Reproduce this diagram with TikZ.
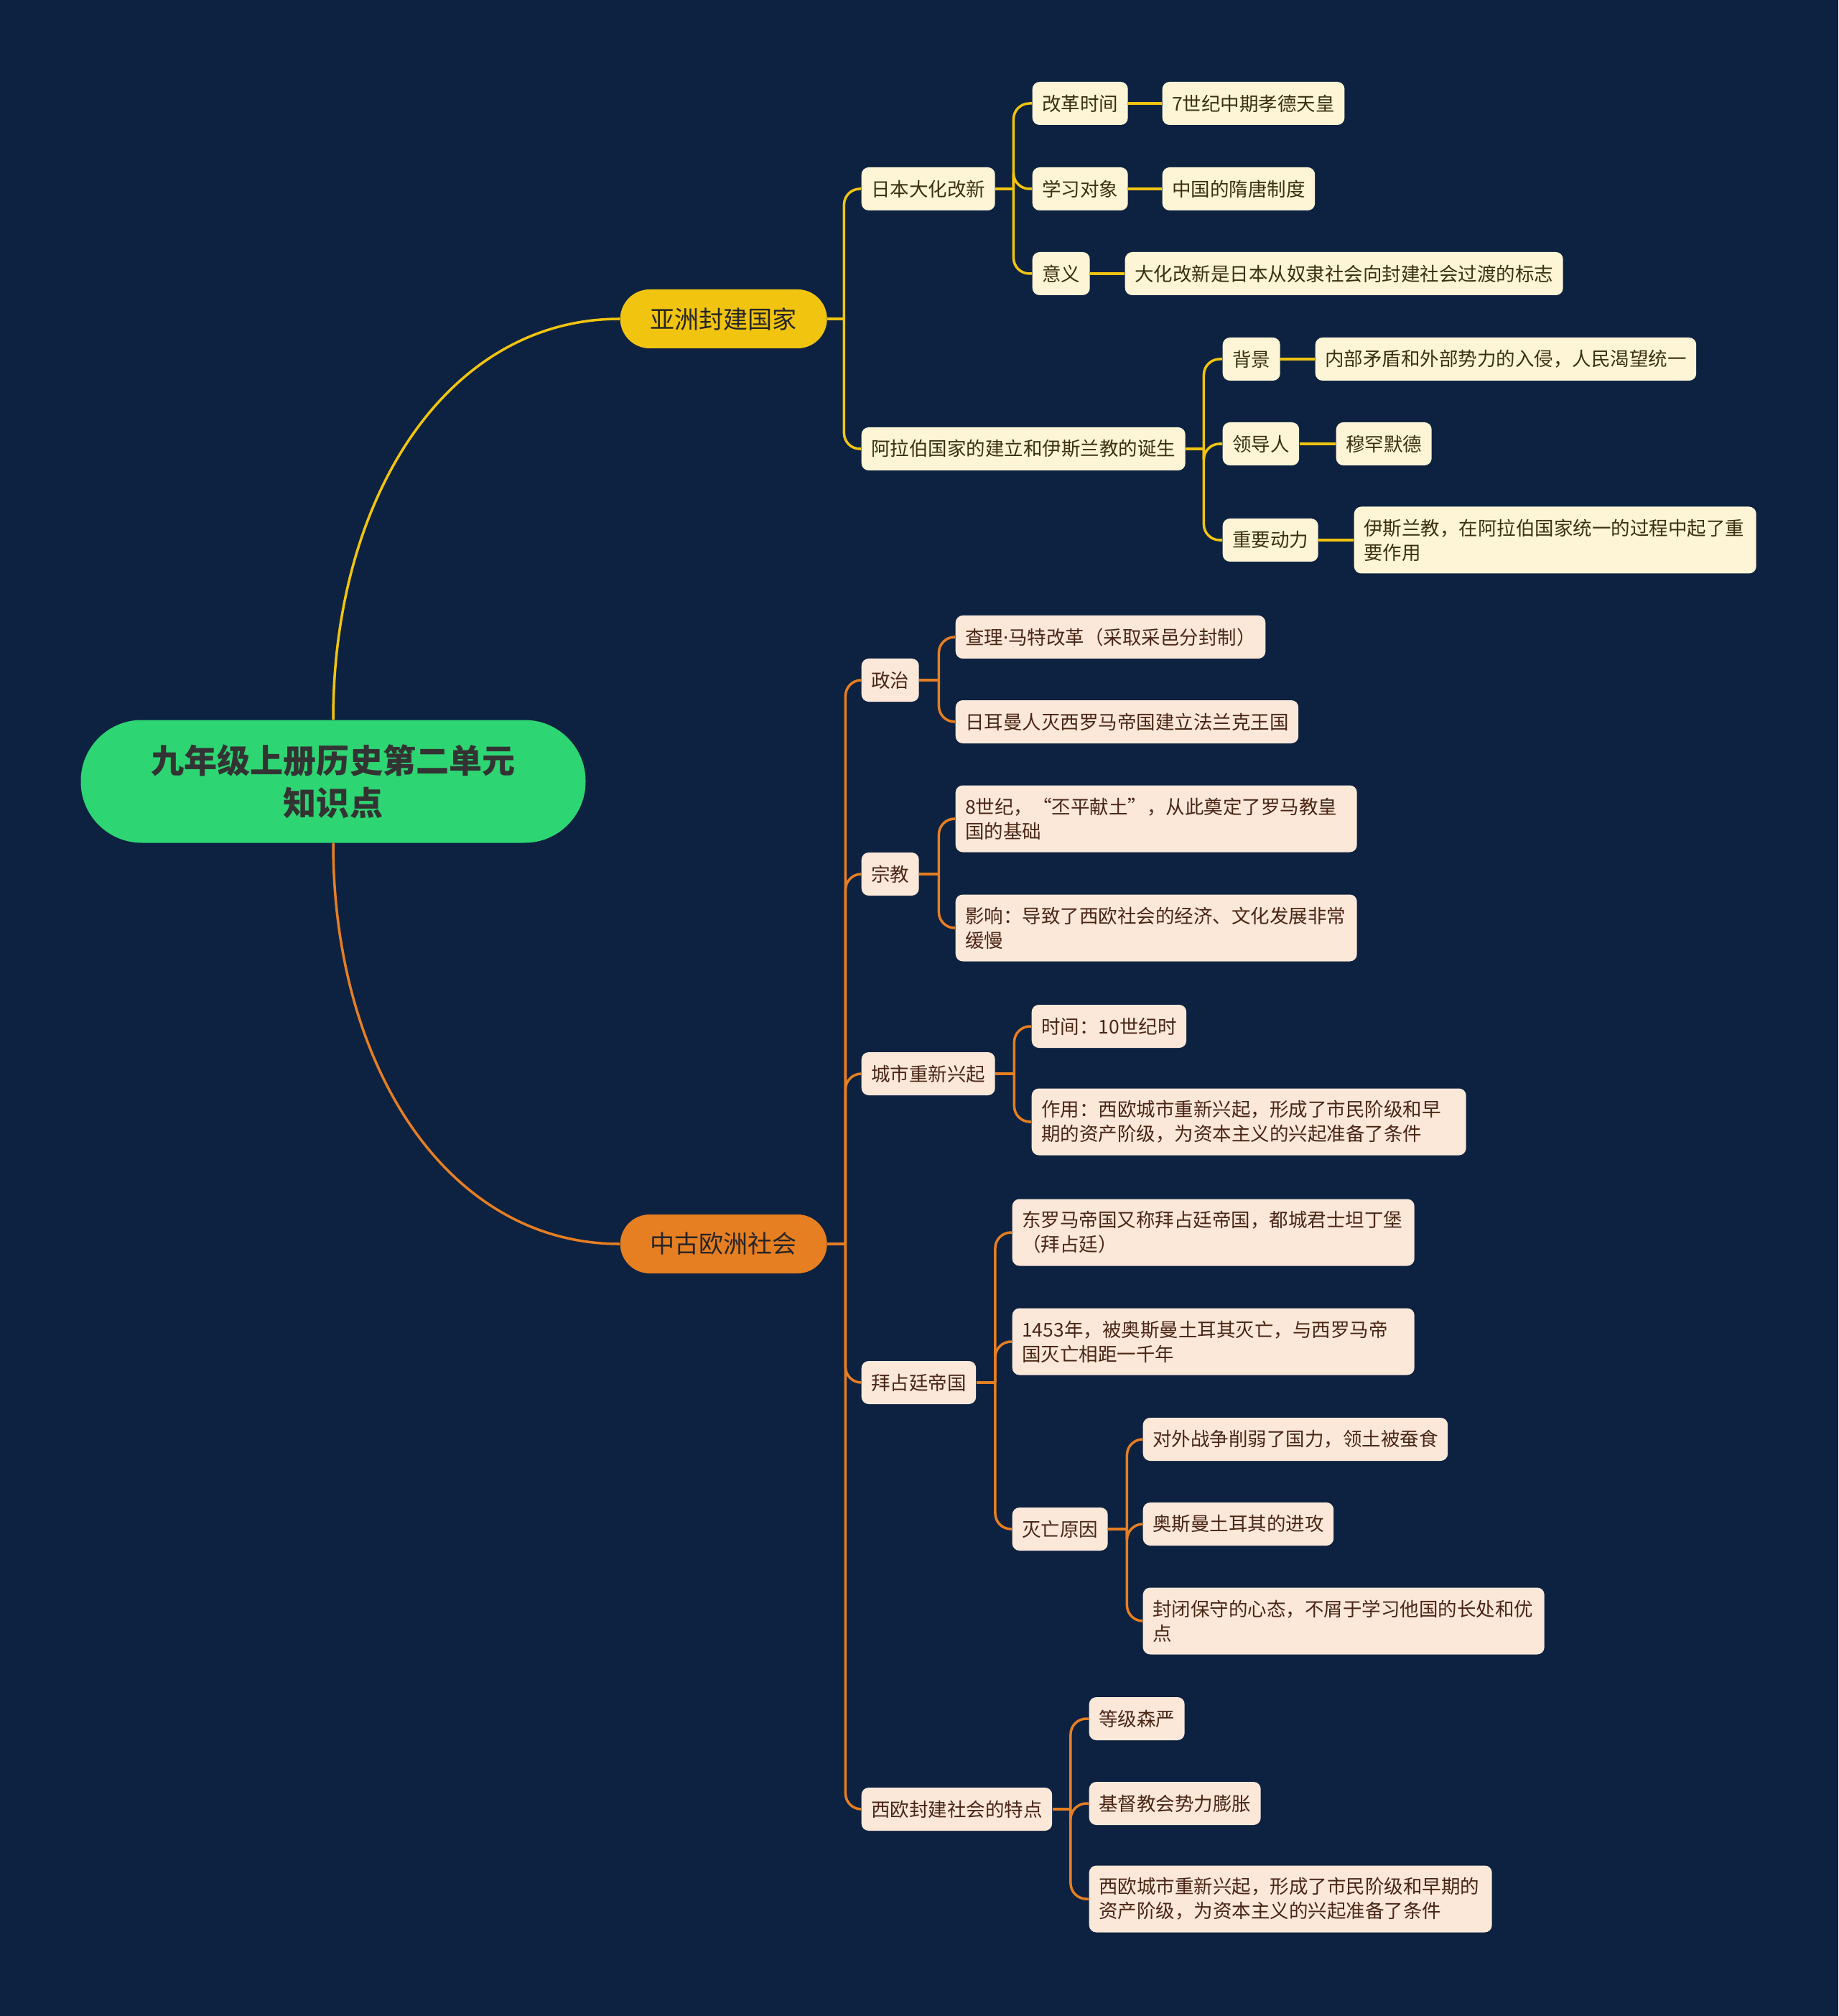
\documentclass[tikz,border=0pt]{standalone}
\usepackage{fontspec}
\setmainfont{Noto Sans CJK SC}
\newfontfamily\latinfont{Noto Sans}

\definecolor{bgnavy}{HTML}{0D2240}
\definecolor{rootgreen}{HTML}{2ED573}
\definecolor{asiayellow}{HTML}{F1C40F}
\definecolor{euroorange}{HTML}{E67E22}
\definecolor{asiafill}{HTML}{FDF5D6}
\definecolor{eurofill}{HTML}{FCE8D9}
\definecolor{asiatext}{HTML}{3A3112}
\definecolor{eurotext}{HTML}{4A2615}

\tikzset{
    rootnode/.style={fill=rootgreen, text=black!80, rounded corners=0.85cm, minimum width=7.03cm, minimum height=1.71cm, align=center, font=\fontsize{13.1}{16.8}\selectfont\bfseries},
    topic/.style={rounded corners=0.41cm, minimum width=2.88cm, minimum height=0.82cm, anchor=west, text=black!85, font=\fontsize{9.7}{12}\selectfont},
    item/.style={rounded corners=0.1cm, minimum height=0.6cm, inner xsep=0.135cm, inner ysep=0.05cm, anchor=west, font=\fontsize{7.54}{9.7}\selectfont},
    asia/.style={item, fill=asiafill, text=asiatext},
    euro/.style={item, fill=eurofill, text=eurotext},
    twoline/.style={minimum height=0.93cm, align=left, text width=#1},
    asialink/.style={draw=asiayellow, line width=1pt},
    eurolink/.style={draw=euroorange, line width=1pt},
    elbow/.style={rounded corners=0.22cm},
}

\begin{document}
\begin{tikzpicture}[y=-1cm]
    \fill[bgnavy] (0, 0) rectangle (25.6, 28.07);
    \useasboundingbox (0, 0) rectangle (25.6, 28.07);

    \node[rootnode] (root) at (4.64, 10.88) {九年级上册历史第二单元\\知识点};
    \node[topic, fill=asiayellow] (asia) at (8.63, 4.44) {亚洲封建国家};
    \node[topic, fill=euroorange] (euro) at (8.63, 17.32) {中古欧洲社会};

    \draw[asialink] (root.north) .. controls +(0, -3.1) and +(-2.4, 0) .. (asia.west);
    \draw[eurolink] (root.south) .. controls +(0, 3.1) and +(-2.4, 0) .. (euro.west);

    \node[asia] (ja) at (11.99, 2.63) {日本大化改新};
    \node[asia] (ar) at (11.99, 6.25) {阿拉伯国家的建立和伊斯兰教的诞生};

    \node[asia] (jaT) at (14.37, 1.44) {改革时间};
    \node[asia] (jaTv) at (16.18, 1.44) {7世纪中期孝德天皇};
    \node[asia] (jaS) at (14.37, 2.63) {学习对象};
    \node[asia] (jaSv) at (16.18, 2.63) {中国的隋唐制度};
    \node[asia] (jaM) at (14.37, 3.81) {意义};
    \node[asia] (jaMv) at (15.66, 3.81) {大化改新是日本从奴隶社会向封建社会过渡的标志};

    \node[asia] (arB) at (17.02, 5.00) {背景};
    \node[asia] (arBv) at (18.31, 5.00) {内部矛盾和外部势力的入侵，人民渴望统一};
    \node[asia] (arL) at (17.02, 6.18) {领导人};
    \node[asia] (arLv) at (18.60, 6.18) {穆罕默德};
    \node[asia] (arP) at (17.02, 7.52) {重要动力};
    \node[asia, twoline=5.33cm] (arPv) at (18.85, 7.52) {伊斯兰教，在阿拉伯国家统一的过程中起了重\\要作用};

    \node[euro] (po) at (11.99, 9.47) {政治};
    \node[euro] (poA) at (13.30, 8.87) {查理{\latinfont ·}马特改革（采取采邑分封制）};
    \node[euro] (poB) at (13.30, 10.05) {日耳曼人灭西罗马帝国建立法兰克王国};

    \node[euro] (re) at (11.99, 12.17) {宗教};
    \node[euro, twoline=5.32cm] (reA) at (13.30, 11.40) {8世纪，“丕平献土”，从此奠定了罗马教皇\\国的基础};
    \node[euro, twoline=5.32cm] (reB) at (13.30, 12.92) {影响：导致了西欧社会的经济、文化发展非常\\缓慢};

    \node[euro] (ci) at (11.99, 14.95) {城市重新兴起};
    \node[euro] (ciA) at (14.36, 14.29) {时间：10世纪时};
    \node[euro, twoline=5.78cm] (ciB) at (14.36, 15.62) {作用：西欧城市重新兴起，形成了市民阶级和早\\期的资产阶级，为资本主义的兴起准备了条件};

    \node[euro] (by) at (11.99, 19.25) {拜占廷帝国};
    \node[euro, twoline=5.33cm] (byA) at (14.09, 17.16) {东罗马帝国又称拜占廷帝国，都城君士坦丁堡\\（拜占廷）};
    \node[euro, twoline=5.33cm] (byB) at (14.09, 18.68) {1453年，被奥斯曼土耳其灭亡，与西罗马帝\\国灭亡相距一千年};
    \node[euro] (byC) at (14.09, 21.29) {灭亡原因};
    \node[euro] (byC1) at (15.91, 20.04) {对外战争削弱了国力，领土被蚕食};
    \node[euro] (byC2) at (15.91, 21.22) {奥斯曼土耳其的进攻};
    \node[euro, twoline=5.32cm] (byC3) at (15.91, 22.57) {封闭保守的心态，不屑于学习他国的长处和优\\点};

    \node[euro] (fe) at (11.99, 25.19) {西欧封建社会的特点};
    \node[euro] (fe1) at (15.16, 23.93) {等级森严};
    \node[euro] (fe2) at (15.16, 25.11) {基督教会势力膨胀};
    \node[euro, twoline=5.34cm] (fe3) at (15.16, 26.44) {西欧城市重新兴起，形成了市民阶级和早期的\\资产阶级，为资本主义的兴起准备了条件};

    \draw[asialink] (asia.east) -- ++(0.23, 0) coordinate (asiaJ);
    \draw[asialink] (ja.east) -- ++(0.25, 0) coordinate (jaJ);
    \draw[asialink] (ar.east) -- ++(0.25, 0) coordinate (arJ);
    \draw[eurolink] (euro.east) -- ++(0.25, 0) coordinate (euroJ);
    \draw[eurolink] (po.east) -- ++(0.27, 0) coordinate (poJ);
    \draw[eurolink] (re.east) -- ++(0.27, 0) coordinate (reJ);
    \draw[eurolink] (ci.east) -- ++(0.26, 0) coordinate (ciJ);
    \draw[eurolink] (by.east) -- ++(0.26, 0) coordinate (byJ);
    \draw[eurolink] (byC.east) -- ++(0.26, 0) coordinate (byCJ);
    \draw[eurolink] (fe.east) -- ++(0.25, 0) coordinate (feJ);

    \foreach \c in {ja, ar}
        \draw[asialink, elbow] (asiaJ) |- (\c.west);
    \foreach \c in {jaT, jaS, jaM}
        \draw[asialink, elbow] (jaJ) |- (\c.west);
    \foreach \c in {arB, arL, arP}
        \draw[asialink, elbow] (arJ) |- (\c.west);
    \foreach \a/\b in {jaT/jaTv, jaS/jaSv, jaM/jaMv, arB/arBv, arL/arLv, arP/arPv}
        \draw[asialink] (\a.east) -- (\b.west);

    \foreach \c in {po, re, ci, by, fe}
        \draw[eurolink, elbow] (euroJ) |- (\c.west);
    \foreach \c in {poA, poB}
        \draw[eurolink, elbow] (poJ) |- (\c.west);
    \foreach \c in {reA, reB}
        \draw[eurolink, elbow] (reJ) |- (\c.west);
    \foreach \c in {ciA, ciB}
        \draw[eurolink, elbow] (ciJ) |- (\c.west);
    \foreach \c in {byA, byB, byC}
        \draw[eurolink, elbow] (byJ) |- (\c.west);
    \foreach \c in {byC1, byC2, byC3}
        \draw[eurolink, elbow] (byCJ) |- (\c.west);
    \foreach \c in {fe1, fe2, fe3}
        \draw[eurolink, elbow] (feJ) |- (\c.west);
\end{tikzpicture}
\end{document}
